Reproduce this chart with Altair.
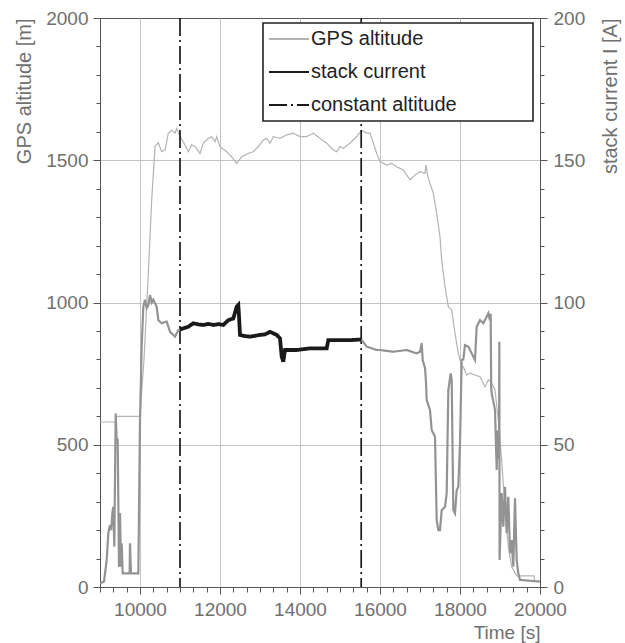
import altair as alt
import pandas as pd

# ---------------- data ----------------
gps_time = [9000, 9390, 9390, 10000, 10100, 10200, 10292, 10375, 10458, 10542,
            10625, 10708, 10792, 10875, 10917, 11000, 11083, 11208, 11292, 11375,
            11500, 11583, 11708, 11792, 11875, 11917, 12000, 12167, 12292, 12417,
            12542, 12708, 12833, 12958, 13083, 13167, 13250, 13333, 13500, 13667,
            13833, 14000, 14167, 14333, 14500, 14667, 14750, 14833, 14917, 15000,
            15083, 15250, 15417, 15542, 15667, 15750, 15833, 15917, 16000, 16167,
            16292, 16417, 16583, 16750, 16875, 17000, 17125, 17150, 17200, 17250,
            17333, 17417, 17500, 17542, 17625, 17708, 17792, 17875, 17958, 18042,
            18083, 18167, 18250, 18375, 18500, 18625, 18708, 18792, 18875, 18958,
            19042, 19125, 19208, 19292, 19417, 19850, 19870, 20000]
gps_alt = [580, 580, 600, 600, 800, 1080, 1360, 1548, 1562, 1530,
           1536, 1595, 1606, 1595, 1612, 1583, 1565, 1530, 1554, 1548,
           1524, 1560, 1577, 1583, 1565, 1583, 1548, 1530, 1512, 1489,
           1512, 1524, 1530, 1548, 1571, 1577, 1560, 1583, 1577, 1589,
           1595, 1583, 1583, 1595, 1577, 1560, 1548, 1536, 1530, 1548,
           1542, 1560, 1583, 1605, 1595, 1595, 1560, 1524, 1495, 1483,
           1489, 1477, 1466, 1431, 1448, 1460, 1454, 1483, 1440, 1419,
           1384, 1313, 1231, 1149, 1056, 985, 974, 892, 821, 774,
           774, 745, 752, 745, 739, 704, 728, 716, 692, 587,
           446, 271, 142, 71, 39, 39, 20, 20]

cur_time = [9000, 9100, 9167, 9208, 9250, 9280, 9308, 9333, 9358, 9392,
            9417, 9442, 9475, 9500, 9525, 9542, 9567, 9740, 9750, 9775,
            9958, 10000, 10042, 10083, 10125, 10167, 10208, 10250, 10292, 10333,
            10417, 10458, 10542, 10667, 10750, 10875, 10958, 11000, 11083, 11208,
            11333, 11458, 11583, 11708, 11833, 11958, 12083, 12208, 12333, 12417,
            12458, 12480, 12500, 12625, 12750, 12875, 13000, 13125, 13250, 13417,
            13500, 13542, 13583, 13625, 13917, 14250, 14667, 14708, 15083, 15292,
            15530, 15667, 15917, 16000, 16333, 16667, 16917, 17000, 17042, 17067,
            17125, 17150, 17167, 17250, 17292, 17375, 17417, 17460, 17500, 17542,
            17625, 17667, 17708, 17767, 17792, 17833, 17875, 17917, 17958, 18000,
            18042, 18083, 18125, 18208, 18292, 18375, 18417, 18500, 18583, 18667,
            18708, 18750, 18767, 18780, 18792, 18875, 18917, 18940, 18975, 18983,
            18990, 19042, 19083, 19125, 19167, 19208, 19250, 19292, 19333, 19375,
            19417, 19458, 19500, 20000]
cur_amp = [1.3, 1.9, 9.5, 18.9, 21.8, 20.0, 25.9, 28.2, 14.2, 61.0,
           51.7, 51.7, 7.0, 26.0, 7.1, 15.4, 4.8, 4.8, 15.4, 4.8,
           4.8, 58.7, 84.5, 98.5, 101.0, 98.0, 99.0, 102.6, 100.0, 101.0,
           98.5, 93.8, 92.7, 93.3, 89.7, 88.0, 90.3, 90.5, 90.9, 91.5,
           92.7, 92.3, 92.1, 92.5, 92.1, 92.4, 92.1, 93.8, 94.4, 98.5,
           99.1, 94.0, 88.6, 88.2, 88.0, 88.3, 88.6, 88.8, 89.7, 88.6,
           87.4, 81.0, 79.2, 83.3, 83.3, 83.9, 83.9, 86.8, 86.8, 86.8,
           87.0, 84.5, 83.3, 83.3, 82.7, 83.3, 82.1, 82.7, 85.7, 79.8,
           77.0, 72.0, 65.7, 62.2, 55.2, 52.8, 23.5, 20.0, 20.0, 27.0,
           28.2, 32.9, 69.2, 75.1, 72.8, 27.0, 25.9, 34.0, 35.2, 50.5,
           79.8, 80.0, 85.0, 84.5, 82.1, 79.8, 91.5, 93.8, 92.7, 95.0,
           96.2, 93.8, 96.0, 70.0, 68.1, 62.2, 41.1, 55.0, 45.0, 86.2,
           9.5, 33.0, 21.2, 35.2, 18.9, 31.7, 11.8, 16.5, 7.1, 31.2,
           9.5, 4.8, 2.5, 1.9]

const_alt_time = [11000, 15530]

series_names = ["GPS altitude", "stack current", "constant altitude", "stack current (outside)"]
series_colors = ["#b3b3b3", "#1a1a1a", "#1a1a1a", "#939393"]
series_dash = [[1, 0], [1, 0], [18, 4, 2, 4], [1, 0]]

# ---------------- tables ----------------
CONST_START, CONST_END = const_alt_time

gps_df = pd.DataFrame({"t": gps_time, "v": gps_alt, "i": range(len(gps_time)),
                       "series": "GPS altitude"})

rows = []
for i, (t, a) in enumerate(zip(cur_time, cur_amp)):
    if t <= CONST_START:
        rows.append((i, t, a, "stack current (outside)", "pre"))
    if CONST_START <= t <= CONST_END:
        rows.append((i, t, a, "stack current", "mid"))
    if t >= CONST_END:
        rows.append((i, t, a, "stack current (outside)", "post"))
cur_df = pd.DataFrame(rows, columns=["i", "t", "a", "series", "seg"])

rule_df = pd.DataFrame({"t": const_alt_time, "series": "constant altitude"})

# ---------------- styling ----------------
FONT = "Liberation Sans"
LABEL_COLOR = "#707070"
AXIS_COLOR = "#555555"
GRID_COLOR = "#c4c4c4"

# an invisible legend title on the right side only widens the legend box
leg = alt.Legend(
    title="xxxxxxxxx", titleOrient="right", titleOpacity=0, titleFontSize=14,
    titleFont=FONT, titlePadding=0,
    orient="none", legendX=163, legendY=5,
    values=series_names[:3], symbolType="stroke", symbolSize=1600,
    symbolStrokeWidth=2, clipHeight=22, rowPadding=11, padding=5,
    labelOffset=1, labelFontSize=20, labelFont=FONT, labelColor="#222222",
    labelLimit=400,
    strokeColor="#222222", fillColor="white", zindex=1,
)

color_enc = alt.Color("series:N", scale=alt.Scale(domain=series_names, range=series_colors), legend=leg)
dash_enc = alt.StrokeDash("series:N", scale=alt.Scale(domain=series_names, range=series_dash), legend=leg)

major_x = "abs(datum.value - round(datum.value / 2000) * 2000) < 1"
x_vals = [round(9000 + k * 1000 / 3, 3) for k in range(34)]
x_axis = alt.Axis(
    values=x_vals,
    labelExpr=f"({major_x}) && datum.value > 9500 ? format(round(datum.value), 'd') : ''",
    tickSize={"condition": {"test": major_x, "value": 7}, "value": 5},
    grid=True,
    gridOpacity={"condition": {"test": f"({major_x}) && datum.value > 9500 && datum.value < 19500", "value": 1}, "value": 0},
    title="Time [s]", titleAnchor="end", titlePadding=4, labelPadding=6,
    labelOverlap=False, labelFlush=False,
)
x_enc = alt.X("t:Q", scale=alt.Scale(domain=[9000, 20000], nice=False, zero=False), axis=x_axis)

t500 = "datum.value % 500 === 0"
y_left = alt.Y("v:Q", scale=alt.Scale(domain=[0, 2000], nice=False),
               axis=alt.Axis(orient="left", values=list(range(0, 2001, 100)), format="d",
                             labelExpr=f"{t500} ? datum.label : ''",
                             tickSize={"condition": {"test": t500, "value": 7}, "value": 4},
                             grid=True,
                             gridOpacity={"condition": {"test": f"{t500} && datum.value > 0 && datum.value < 2000", "value": 1}, "value": 0},
                             title="GPS altitude [m]", titleAnchor="end", titlePadding=11,
                             titleFontSize=20,
                             labelPadding=5, labelOverlap=False, labelFlush=False))
t50 = "datum.value % 50 === 0"
y_right = alt.Y("a:Q", scale=alt.Scale(domain=[0, 200], nice=False),
                axis=alt.Axis(orient="right", values=list(range(0, 201, 10)), format="d",
                              labelExpr=f"{t50} ? datum.label : ''",
                              tickSize={"condition": {"test": t50, "value": 7}, "value": 4},
                              grid=False, title="stack current I [A]", titleAnchor="end",
                              titleAngle=270, titleBaseline="top", titlePadding=16,
                              titleFontSize=20,
                              labelPadding=6, labelOverlap=False, labelFlush=False))

gps_line = alt.Chart(gps_df).mark_line(clip=True, strokeWidth=1.2).encode(
    x=x_enc, y=y_left, order="i:Q", color=color_enc, strokeDash=dash_enc)

rules = alt.Chart(rule_df).mark_rule(strokeWidth=1.7).encode(
    x=x_enc, color=color_enc, strokeDash=dash_enc)

cur_outside = alt.Chart(cur_df).transform_filter("datum.seg !== 'mid'").mark_line(
    clip=True, strokeWidth=2.2).encode(
    x=x_enc, y=y_right, order="i:Q", color=color_enc, strokeDash=dash_enc, detail="seg:N")

cur_inside = alt.Chart(cur_df).transform_filter("datum.seg === 'mid'").mark_line(
    clip=True, strokeWidth=3.8).encode(
    x=x_enc, y=y_right, order="i:Q", color=color_enc, strokeDash=dash_enc, detail="seg:N")

current = alt.layer(cur_outside, cur_inside)

chart = alt.layer(gps_line, rules, current).resolve_scale(y="independent").properties(
    width=440, height=569,
    autosize=alt.AutoSizeParams(type="none"),
    padding={"left": 100, "top": 18, "right": 85, "bottom": 56},
    background="white",
).configure_view(stroke=AXIS_COLOR, strokeWidth=1).configure_axis(
    labelFont=FONT, labelFontSize=19, labelColor=LABEL_COLOR,
    titleFont=FONT, titleFontSize=19, titleColor=LABEL_COLOR, titleFontWeight="normal",
    domainColor=AXIS_COLOR, tickColor=AXIS_COLOR, gridColor=GRID_COLOR, gridWidth=1,
).configure_legend(strokeWidth=1.6)

chart.save("out.html", embed_options={"renderer": "svg", "actions": False})
